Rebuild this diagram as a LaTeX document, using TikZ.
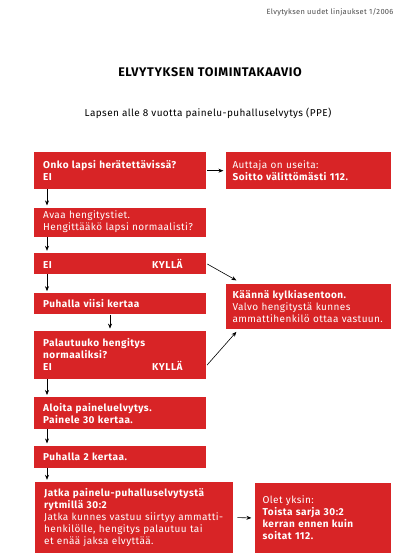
\documentclass[tikz,border=0pt]{standalone}
\usepackage{fontspec}
\setmainfont[LetterSpace=4,BoldFeatures={LetterSpace=5}]{Fira Sans}
\usetikzlibrary{arrows.meta,positioning}
\definecolor{ppered}{RGB}{216,36,38}

\begin{document}
\begin{tikzpicture}[
  x=1pt, y=-1pt,
  font=\fontsize{10}{12}\selectfont,
  box/.style={fill=ppered,text=white,anchor=north west,align=left,inner xsep=9pt,inner ysep=0pt,text width=154pt},
  sidebox/.style={box,inner xsep=7pt,text width=151pt},
  arrow/.style={-{Stealth[length=5pt,width=4pt]},semithick,shorten >=2pt},
]
\useasboundingbox (0,0) rectangle (411,559);

\node[anchor=east, text=black!70, font=\fontsize{7.5}{9}\selectfont] (hdr) at (397,12) {Elvytyksen uudet linjaukset 1/2006};
\node[font=\fontsize{12.5}{14}\selectfont\bfseries] (title) at (210,72) {ELVYTYKSEN TOIMINTAKAAVIO};
\node (subtitle) at (208,113) {Lapsen alle 8 vuotta painelu-puhalluselvytys (PPE)};

% left column
\node[box, minimum height=37pt] (awake) at (34,152) {\textbf{Onko lapsi herätettävissä?}\\\textbf{EI}};
\node[box, minimum height=29pt, below=18pt of awake.south west, anchor=north west] (airway) {Avaa hengitystiet.\\Hengittääkö lapsi normaalisti?};
\node[box, minimum height=21pt, below=16pt of airway.south west, anchor=north west] (breathing) {\textbf{EI}\hfill\textbf{KYLLÄ}\hspace*{14pt}};
\node[box, minimum height=21pt, below=19pt of breathing.south west, anchor=north west] (rescue) {\textbf{Puhalla viisi kertaa}};
\node[box, minimum height=48pt, below=16pt of rescue.south west, anchor=north west] (recover) {\textbf{Palautuuko hengitys}\\\textbf{normaaliksi?}\\\textbf{EI}\hfill\textbf{KYLLÄ}\hspace*{14pt}};
\node[box, minimum height=32pt, below=18pt of recover.south west, anchor=north west] (compress) {\textbf{Aloita paineluelvytys.}\\\textbf{Painele 30 kertaa.}};
\node[box, minimum height=22pt, below=16pt of compress.south west, anchor=north west] (breaths) {\textbf{Puhalla 2 kertaa.}};
\node[box, minimum height=71pt, text width=180pt, below=14pt of breaths.south west, anchor=north west, xshift=1pt] (cycle) {\textbf{Jatka painelu-puhalluselvytystä}\\\textbf{rytmillä 30:2}\\Jatka kunnes vastuu siirtyy ammatti-\\henkilölle, hengitys palautuu tai\\et enää jaksa elvyttää.};

% right column
\node[sidebox, minimum height=37pt, right=19pt of awake.north east, anchor=north west] (call) {Auttaja on useita:\\\textbf{Soitto välittömästi 112.}};
\node[sidebox, minimum height=45pt, below=94pt of call.south west, anchor=north west] (side) {\textbf{Käännä kylkiasentoon.}\\Valvo hengitystä kunnes\\ammattihenkilö ottaa vastuun.};
\node[box, inner xsep=8pt, text width=120pt, minimum height=70pt, right=21pt of cycle.north east, anchor=north west, yshift=-1pt] (alone) {Olet yksin:\\\textbf{Toista sarja 30:2}\\\textbf{kerran ennen kuin}\\\textbf{soitat 112.}};

\draw[arrow] ([xshift=13pt]awake.south west) -- ([xshift=13pt]airway.north west);
\draw[arrow] ([xshift=13pt]airway.south west) -- ([xshift=13pt]breathing.north west);
\draw[arrow] ([xshift=13pt]breathing.south west) -- ([xshift=13pt]rescue.north west);
\draw[arrow] ([xshift=76pt]rescue.south west) -- ([xshift=76pt]recover.north west);
\draw[arrow] ([xshift=13pt]recover.south west) -- ([xshift=13pt]compress.north west);
\draw[arrow] ([xshift=13pt]compress.south west) -- ([xshift=13pt]breaths.north west);
\draw[arrow] ([xshift=13pt]breaths.south west) -- ([xshift=12pt]cycle.north west);

\draw[arrow, shorten <=1pt] (awake.east) -- (call.west);
\draw[arrow, shorten <=1pt, shorten >=0pt] (breathing.east) -- ([xshift=11pt,yshift=3pt]side.north west);
\draw[arrow, shorten <=1pt, shorten >=0pt] ([yshift=-11pt]recover.east) -- ([xshift=11pt,yshift=-3pt]side.south west);
\draw[arrow, shorten <=4pt, shorten >=3pt] (cycle.east) -- (alone.west);
\end{tikzpicture}
\end{document}
